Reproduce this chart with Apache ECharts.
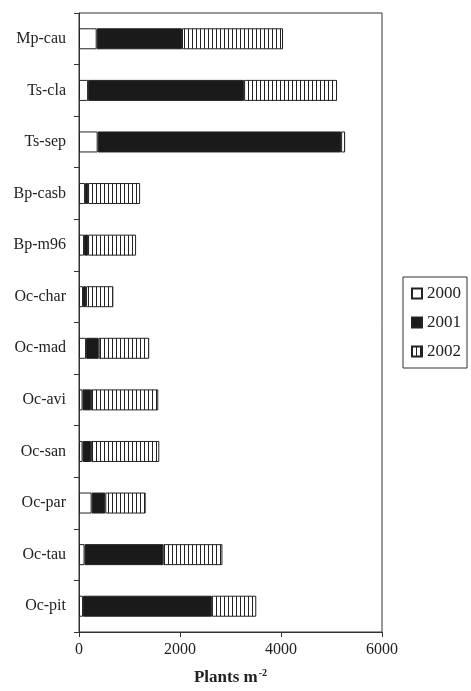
<!DOCTYPE html>
<html>
<head>
<meta charset="utf-8">
<script src="https://cdn.jsdelivr.net/npm/echarts@6/dist/echarts.min.js"></script>
<style>
  html, body { margin: 0; padding: 0; background: #fff; }
  #chart { width: 471px; height: 691px; }
</style>
</head>
<body>
<div id="chart"></div>
<script>
// Plant density per population, stacked by year
const populations = ['Mp-cau', 'Ts-cla', 'Ts-sep', 'Bp-casb', 'Bp-m96', 'Oc-char',
                     'Oc-mad', 'Oc-avi', 'Oc-san', 'Oc-par', 'Oc-tau', 'Oc-pit'];
const years = ['2000', '2001', '2002'];
const plants2000 = [350, 180, 370, 120, 100, 80, 140, 70, 70, 250, 110, 80];
const plants2001 = [1690, 3090, 4820, 60, 80, 60, 250, 170, 170, 270, 1560, 2550];
const plants2002 = [2000, 1840, 80, 1030, 950, 540, 1000, 1330, 1350, 800, 1170, 880];
const xTicks = [0, 2000, 4000, 6000];

// vertical stripe fill for the 2002 segment
function stripePattern() {
  const c = document.createElement('canvas');
  c.width = 4; c.height = 4;
  const g = c.getContext('2d');
  g.fillStyle = '#ffffff';
  g.fillRect(0, 0, 4, 4);
  g.fillStyle = '#222222';
  g.fillRect(0, 0, 1, 4);
  return c;
}

const serif = 'Liberation Serif';
const chart = echarts.init(document.getElementById('chart'), null, { renderer: 'canvas' });

const fills = ['#ffffff', '#1a1a1a', { image: stripePattern(), repeat: 'repeat' }];
const values = [plants2000, plants2001, plants2002];

chart.setOption({
  animation: false,
  textStyle: { fontFamily: serif },
  grid: {
    left: 79, right: 89, top: 13, bottom: 54,
    show: true, borderColor: '#333', borderWidth: 1, backgroundColor: 'transparent'
  },
  legend: {
    data: years,
    orient: 'vertical',
    left: 403, top: 277,
    itemWidth: 10, itemHeight: 10, itemGap: 12,
    padding: [8, 6, 8, 8],
    borderColor: '#333', borderWidth: 1,
    icon: 'rect',
    textStyle: { fontFamily: serif, fontSize: 17, color: '#222', padding: [0, 0, 0, 0] }
  },
  xAxis: {
    type: 'value',
    min: xTicks[0], max: xTicks[xTicks.length - 1], interval: 2000,
    splitLine: { show: false },
    axisLine: { show: true, lineStyle: { color: '#333', width: 1 } },
    axisTick: { show: true, length: 5, lineStyle: { color: '#333' } },
    axisLabel: {
      fontFamily: serif, fontSize: 16, color: '#222', margin: 10,
      formatter: v => String(v)
    },
    name: '{a|Plants m}{b|-2}',
    nameLocation: 'middle',
    nameGap: 36,
    nameTextStyle: {
      rich: {
        a: { fontFamily: serif, fontSize: 17, fontWeight: 'bold', color: '#222' },
        b: { fontFamily: serif, fontSize: 10, fontWeight: 'bold', color: '#222', padding: [0, 0, 9, 1] }
      }
    }
  },
  yAxis: {
    type: 'category',
    data: populations,
    inverse: true,
    axisLine: { show: true, lineStyle: { color: '#333', width: 1 } },
    axisTick: { show: true, length: 5, alignWithLabel: false, lineStyle: { color: '#333' } },
    axisLabel: { fontFamily: serif, fontSize: 16, color: '#222', margin: 13 }
  },
  series: years.map((y, i) => ({
    name: y,
    type: 'bar',
    stack: 'total',
    barWidth: 21,
    data: values[i],
    itemStyle: { color: fills[i], borderColor: '#222', borderWidth: 1 }
  }))
});
</script>
</body>
</html>
